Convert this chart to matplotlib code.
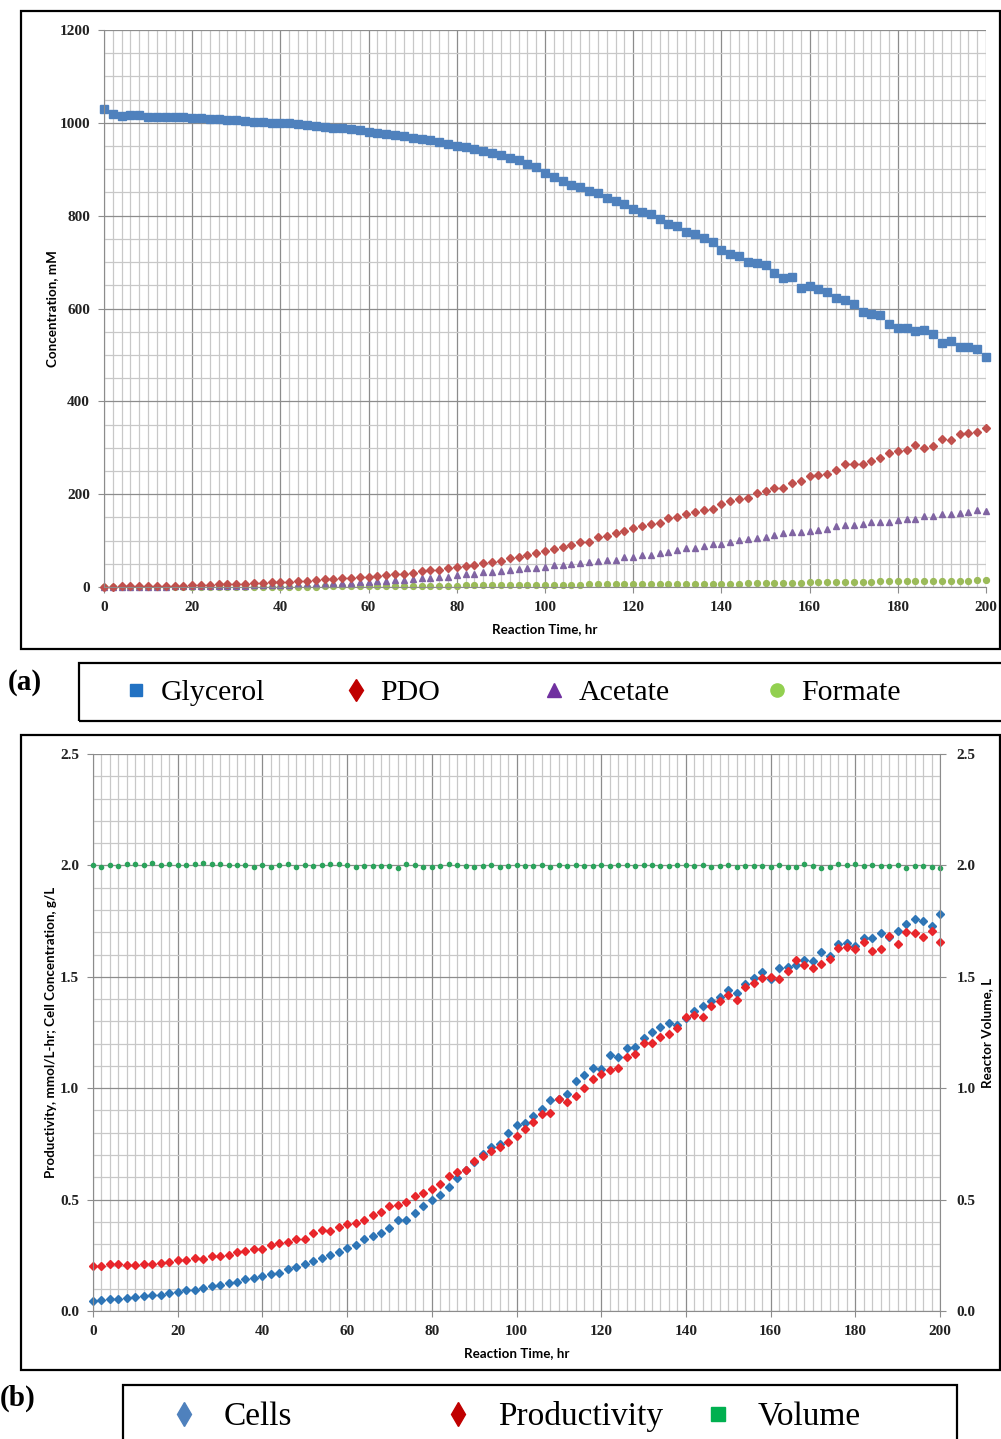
import numpy as np
import matplotlib
matplotlib.use("Agg")
import matplotlib.pyplot as plt
from matplotlib.lines import Line2D
from matplotlib.patches import Rectangle
from matplotlib.ticker import MultipleLocator, FormatStrFormatter


# ============================
# Data
# ============================
hours = np.arange(0, 201, 2)

glycerol = [1030, 1018, 1015, 1016, 1016, 1013, 1013, 1012, 1012, 1012,
            1010, 1010, 1008, 1008, 1006, 1006, 1004, 1002, 1002, 1000,
            999, 999, 997, 995, 993,
            991, 989, 988, 986, 984, 981, 979, 976, 974, 971,
            968, 966, 962, 958, 955, 951, 947, 944, 939, 935,
            930, 925, 919, 912, 904,
            892, 884, 875, 867, 861, 854, 849, 837, 832, 825,
            814, 807, 803, 793, 783, 778, 765, 761, 752, 743,
            727, 717, 714, 700, 698, 694, 676, 666, 668, 645,
            648, 642, 636, 623, 618, 610, 592, 588, 587, 567,
            559, 557, 551, 553, 545, 525, 531, 516, 518, 513, 495]

pdo = [0, 0, 1.5, 1.5, 1.5, 1.5, 3, 3, 3, 3, 4, 4, 4, 6.5, 6.5, 6.5, 7, 9, 9, 11, 11, 11.5,
       13, 14, 15.5, 16.5, 17.5, 19.5, 20, 21, 22, 24, 26, 28, 29, 31, 34, 36, 37, 40,
       44, 45, 48, 52, 54, 57, 63, 65, 69, 74, 77, 81, 87, 90, 97, 98, 107, 109, 116, 120,
       127, 131, 135, 138, 148, 150, 158, 161, 165, 169, 178, 186, 190, 191, 203, 207,
       214, 214, 225, 228, 240, 241, 244, 252, 264, 265, 265, 271, 278, 289, 292, 296,
       305, 299, 303, 318, 316, 330, 332, 334, 342]

acetate = [0, 0, 0, 0.5, 0.5, 1, 1, 1, 1.5, 1.5, 2, 2, 2, 2.5, 2.5, 3, 3, 3.5, 4, 4, 5, 5,
           6, 6.5, 7, 7.5, 8, 9, 9.5, 10.5, 11, 12, 13.5, 15, 16, 18, 19, 20, 21, 22,
           25, 27, 29, 31.5, 33, 34, 36.5, 38, 40, 42, 44, 47, 48, 49.5, 51.5, 54, 56, 58,
           59, 64, 65, 68, 70, 73, 76, 79, 84, 85,
           88, 92, 93, 97, 101, 103, 105, 107, 113, 116, 118, 119, 121, 123, 126, 131,
           133, 133, 135, 139, 140, 140, 145, 146, 147, 154, 154, 157, 157, 160, 161, 166, 164]

formate = [0] * 16 + [0.5, 0.5, 0.5, 0.5, 1, 1, 1, 1, 1, 1.5, 1.5, 1.5, 1.5, 1.5,
           1.5, 1.5, 2, 2, 2, 2.5, 2.5, 2.5, 3, 3, 3, 3.5, 3.5, 3.5, 4, 4, 4, 4, 4.5, 4.5,
           4.5, 5, 5, 5, 5, 5.5, 5.5, 5.5, 5.5, 5.5, 6, 6, 6, 6, 6.5, 6.5, 6.5, 6.5,
           6.5, 6.5, 6.5, 7, 7, 8.5, 8.5, 8.5, 8.5, 8.5, 8.5, 8.5, 10, 10, 11, 11, 11, 11,
           11, 11, 12, 13.5, 13.5, 13.5, 13.5, 13.5, 13.5, 13.5, 13.5, 13.5, 13.5, 15, 15]

cells = [0.046, 0.051, 0.055, 0.055, 0.060, 0.064, 0.067, 0.073, 0.073, 0.082,
         0.087, 0.094, 0.094, 0.103, 0.112, 0.118, 0.125, 0.130, 0.142, 0.149,
         0.157, 0.167, 0.172, 0.188, 0.199,
         0.209, 0.224, 0.240, 0.251, 0.266, 0.281, 0.294, 0.321, 0.336, 0.351,
         0.372, 0.407, 0.410, 0.440, 0.470, 0.500, 0.521, 0.557, 0.596, 0.634,
         0.667, 0.706, 0.734, 0.749, 0.799, 0.834, 0.842, 0.873, 0.906, 0.946,
         0.951, 0.972, 1.031, 1.058, 1.090, 1.088, 1.148, 1.140, 1.179, 1.187,
         1.227, 1.254, 1.273, 1.294, 1.282, 1.313,
         1.345, 1.370, 1.390, 1.409, 1.440, 1.427, 1.467, 1.493, 1.521, 1.490,
         1.540, 1.545, 1.552, 1.576, 1.569, 1.612, 1.593, 1.648, 1.652, 1.640,
         1.672, 1.675, 1.696, 1.678, 1.706, 1.737, 1.761, 1.749, 1.727, 1.784]

productivity = [0.203, 0.201, 0.210, 0.210, 0.207, 0.207, 0.210, 0.210, 0.215, 0.219,
                0.227, 0.227, 0.237, 0.233, 0.246, 0.246, 0.251, 0.267, 0.270, 0.278,
                0.278, 0.294, 0.306, 0.309, 0.325,
                0.325, 0.348, 0.362, 0.361, 0.376, 0.389, 0.396, 0.410, 0.430, 0.446,
                0.470, 0.474, 0.490, 0.516, 0.530, 0.549, 0.570, 0.607, 0.624, 0.634,
                0.672, 0.697, 0.719, 0.736, 0.758, 0.784, 0.816, 0.848, 0.885, 0.888,
                0.951, 0.939, 0.963, 0.999, 1.042, 1.064, 1.081, 1.091, 1.139, 1.155,
                1.201, 1.204, 1.228, 1.242, 1.272, 1.318,
                1.330, 1.318, 1.370, 1.393, 1.419, 1.397, 1.454, 1.470, 1.493, 1.501,
                1.491, 1.525, 1.576, 1.552, 1.540, 1.557, 1.581, 1.631, 1.634, 1.625,
                1.658, 1.618, 1.624, 1.684, 1.646, 1.701, 1.696, 1.678, 1.706, 1.655]

volume = [2.000, 1.993, 2.003, 1.996, 2.007, 2.007, 2.000, 2.012, 2.004, 2.007,
          2.000, 2.000, 2.007, 2.012, 2.007, 2.007, 2.003, 2.003, 2.000, 1.993,
          2.000, 1.993, 2.000, 2.007, 1.993, 2.003, 1.997,
          2.003, 2.007, 2.005, 2.000, 1.993, 1.996, 1.996, 1.999, 1.996, 1.990,
          2.005, 2.003, 1.992, 1.993, 1.999, 2.006, 2.000, 1.996, 1.993, 1.999,
          2.002, 1.994, 1.998, 2.000, 1.996, 1.999, 2.000, 1.995, 2.000, 1.996,
          2.003, 1.999, 1.996, 2.000, 1.997, 2.003, 2.000, 1.996, 2.002, 2.004,
          1.998, 1.996, 2.000, 2.003, 1.996,
          2.003, 1.991, 1.996, 2.000, 1.991, 1.996, 1.999, 1.996, 1.991, 2.003,
          1.991, 1.991, 2.007, 1.996, 1.987, 1.991, 2.007, 2.003, 2.006, 1.996,
          2.003, 1.999, 1.999, 2.003, 1.987, 1.996, 1.999, 1.991, 1.987]

legend_a_labels = ["Glycerol", "PDO", "Acetate", "Formate"]
legend_b_labels = ["Cells", "Productivity", "Volume"]


# ============================
# Layout helpers (pixel boxes)
# ============================
W, H = 1001, 1439
TICK_FONT = {"family": "Liberation Serif", "size": 11, "weight": "bold"}
LABEL_FONT = {"family": "Lato", "size": 9.6, "weight": "bold"}
MAJOR_GRID = "#8c8c8c"
MINOR_GRID = "#c8c8c8"


def px_rect(x0, y0, x1, y1):
    return [x0 / W, 1 - y1 / H, (x1 - x0) / W, (y1 - y0) / H]


def add_frame(fig, x0, y0, x1, y1):
    r = px_rect(x0, y0, x1, y1)
    fig.add_artist(Rectangle((r[0], r[1]), r[2], r[3], transform=fig.transFigure,
                             fill=False, edgecolor="black", linewidth=1.6))


def set_tick_font(labels):
    for lab in labels:
        lab.set_fontfamily(TICK_FONT["family"])
        lab.set_fontsize(TICK_FONT["size"])
        lab.set_fontweight(TICK_FONT["weight"])
        lab.set_color("#222222")


def style_axes(ax, y_major, y_minor):
    ax.set_xlim(0, 200)
    ax.xaxis.set_major_locator(MultipleLocator(20))
    ax.xaxis.set_minor_locator(MultipleLocator(2))
    ax.yaxis.set_major_locator(MultipleLocator(y_major))
    ax.yaxis.set_minor_locator(MultipleLocator(y_minor))
    ax.grid(which="minor", color=MINOR_GRID, linewidth=0.9)
    ax.grid(which="major", color=MAJOR_GRID, linewidth=0.9)
    ax.set_axisbelow(True)
    ax.tick_params(which="minor", length=0)
    ax.tick_params(which="major", length=4, color=MAJOR_GRID, pad=6)
    for side in ["top", "right"]:
        ax.spines[side].set_visible(False)
    for side in ["left", "bottom"]:
        ax.spines[side].set_color(MAJOR_GRID)


def add_legend_row(fig, handles, labels, centers, y, size, pad):
    em = size * 100 / 72.0
    for h, lab, xc in zip(handles, labels, centers):
        fig.legend([h], [lab], loc="center left",
                   bbox_to_anchor=((xc - em / 2) / W, 1 - y / H),
                   bbox_transform=fig.transFigure, frameon=False,
                   prop={"family": "Liberation Serif", "size": size},
                   handlelength=1.0, handletextpad=pad,
                   borderpad=0, borderaxespad=0)


fig = plt.figure(figsize=(W / 100, H / 100), dpi=100)

# ============================
# Panel (a): concentrations
# ============================
add_frame(fig, 21, 11, 1000, 649)
ax1 = fig.add_axes(px_rect(104, 30, 986, 587))
style_axes(ax1, 200, 50)
ax1.set_ylim(0, 1200)
ax1.plot(hours, formate, ls="none", marker="o", ms=4.2, color="#9BBB59", clip_on=False)
ax1.plot(hours, acetate, ls="none", marker="^", ms=4.6, color="#8064A2", clip_on=False)
ax1.plot(hours, pdo, ls="none", marker="D", ms=4.2, color="#C0504D", clip_on=False)
ax1.plot(hours, glycerol, ls="none", marker="s", ms=5.2, color="#4F81BD", clip_on=False)
set_tick_font(ax1.get_xticklabels() + ax1.get_yticklabels())
ax1.set_xlabel("Reaction Time, hr", fontdict=LABEL_FONT)
ax1.set_ylabel("Concentration, mM", fontdict=LABEL_FONT)
ax1.xaxis.set_label_coords(0.5, -0.065)
ax1.yaxis.set_label_coords(-0.052, 0.5)

# legend (a)
add_frame(fig, 79, 663, 1010, 721)
fig.text(8 / W, 1 - 682 / H, "(a)", ha="left", va="center",
         fontfamily="Liberation Serif", fontsize=21, fontweight="bold")
handles_a = [Line2D([], [], ls="none", marker="s", ms=9, color="#2272C3"),
             Line2D([], [], ls="none", marker="d", ms=11.5, color="#C00000"),
             Line2D([], [], ls="none", marker="^", ms=10, color="#7030A0"),
             Line2D([], [], ls="none", marker="o", ms=9.5, color="#92D050")]
add_legend_row(fig, handles_a, legend_a_labels, [136, 356, 554, 777], 693, 21.5, 0.32)

# ============================
# Panel (b): cells / productivity / volume
# ============================
add_frame(fig, 21, 735, 1000, 1370)
ax2 = fig.add_axes(px_rect(93, 754, 940, 1311))
style_axes(ax2, 0.5, 0.1)
ax2.set_ylim(0, 2.5)
ax2.yaxis.set_major_formatter(FormatStrFormatter("%.1f"))
ax2.plot(hours, cells, ls="none", marker="D", ms=4.2, color="#2E75B6", clip_on=False)
ax2.plot(hours, productivity, ls="none", marker="D", ms=4.2, color="#E8262B", clip_on=False)
set_tick_font(ax2.get_xticklabels() + ax2.get_yticklabels())
ax2.set_xlabel("Reaction Time, hr", fontdict=LABEL_FONT)
ax2.set_ylabel("Productivity, mmol/L-hr; Cell Concentration, g/L", fontdict=LABEL_FONT)
ax2.xaxis.set_label_coords(0.5, -0.065)
ax2.yaxis.set_label_coords(-0.042, 0.5)

ax3 = ax2.twinx()
ax3.set_ylim(0, 2.5)
ax3.yaxis.set_major_locator(MultipleLocator(0.5))
ax3.yaxis.set_major_formatter(FormatStrFormatter("%.1f"))
ax3.plot(hours, volume, ls="none", marker="o", ms=3.0, color="#2BA35B", clip_on=False)
for side in ["top", "left", "bottom"]:
    ax3.spines[side].set_visible(False)
ax3.spines["right"].set_color(MAJOR_GRID)
ax3.tick_params(axis="y", length=4, color=MAJOR_GRID, pad=8)
set_tick_font(ax3.get_yticklabels())
ax3.set_ylabel("Reactor Volume, L", fontdict=LABEL_FONT)
ax3.yaxis.set_label_coords(1.048, 0.5)

# legend (b)
add_frame(fig, 123, 1385, 957, 1450)
fig.text(0 / W, 1 - 1398 / H, "(b)", ha="left", va="center",
         fontfamily="Liberation Serif", fontsize=21, fontweight="bold")
handles_b = [Line2D([], [], ls="none", marker="d", ms=12, color="#4F81BD"),
             Line2D([], [], ls="none", marker="d", ms=12, color="#C00000"),
             Line2D([], [], ls="none", marker="s", ms=10, color="#00B050")]
add_legend_row(fig, handles_b, legend_b_labels, [184, 458, 718], 1417, 24, 0.7)

fig.savefig("out.png", dpi=100)
